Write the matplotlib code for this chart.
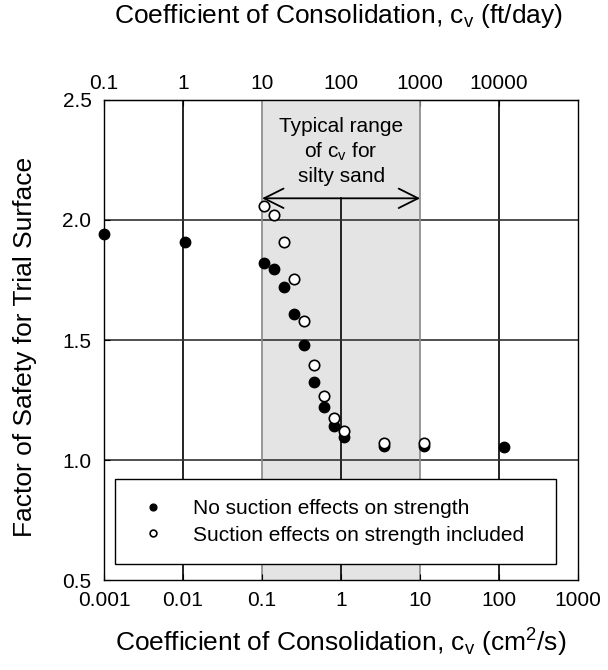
import matplotlib
matplotlib.use("Agg")
import matplotlib.pyplot as plt

plt.rcParams['font.family'] = ['Liberation Sans', 'DejaVu Sans']
plt.rcParams['mathtext.default'] = 'regular'

# данные
cv_no_suction = [0.001, 0.0105, 0.105, 0.142, 0.19, 0.254, 0.34, 0.455, 0.61, 0.815, 1.09, 3.53, 11.3, 115]
fs_no_suction = [1.942, 1.91, 1.822, 1.796, 1.72, 1.608, 1.479, 1.326, 1.22, 1.142, 1.097, 1.058, 1.058, 1.053]
cv_suction = [0.105, 0.14, 0.19, 0.254, 0.34, 0.455, 0.61, 0.815, 1.09, 3.53, 11.3]
fs_suction = [2.056, 2.021, 1.91, 1.753, 1.579, 1.396, 1.267, 1.174, 1.121, 1.072, 1.072]

x_ticks = [0.001, 0.01, 0.1, 1, 10, 100, 1000]
x_labels = ['0.001', '0.01', '0.1', '1', '10', '100', '1000']
top_ticks = [0.1, 1, 10, 100, 1000, 10000]
top_labels = ['0.1', '1', '10', '100', '1000', '10000']
y_ticks = [0.5, 1.0, 1.5, 2.0, 2.5]
typical_range = (0.1, 10)
arrow_y = 2.09

fig = plt.figure(figsize=(6.08, 6.70), dpi=100)
ax = fig.add_axes([0.171, 0.134, 0.780, 0.717])

ax.set_xscale('log')
ax.set_xlim(0.001, 1000)
ax.set_ylim(0.5, 2.5)

# серая полоса - типичный диапазон
ax.axvspan(*typical_range, facecolor='#e4e4e4', edgecolor='none', zorder=0.2)
for x in [0.01, 100]:
    ax.axvline(x, color='black', lw=1.2, zorder=0.5)
# линия при 1 обрывается на стрелке
ax.axvline(1, ymax=(arrow_y - 0.5) / 2.0, color='black', lw=1.2, zorder=0.5)
for y in y_ticks[1:-1]:
    ax.axhline(y, color='#333333', lw=1.2, zorder=0.5)
for x in typical_range:
    ax.axvline(x, color='#888888', lw=1.2, zorder=0.6)

ax.plot(cv_no_suction, fs_no_suction, 'o', ms=7.5, color='black', mec='black',
        label='No suction effects on strength', clip_on=False, zorder=3)
ax.plot(cv_suction, fs_suction, 'o', ms=7.5, mfc='white', mec='black', mew=1.2,
        label='Suction effects on strength included', clip_on=False, zorder=4)

ax.annotate('', xy=(typical_range[0], arrow_y), xytext=(typical_range[1], arrow_y),
            arrowprops=dict(arrowstyle='<->', lw=1.3, color='black', mutation_scale=35,
                            shrinkA=0, shrinkB=0), zorder=2)
ax.text(1, 2.285, 'Typical range\nof c$_v$ for\nsilty sand', ha='center', va='center',
        fontsize=15, linespacing=1.25, zorder=2)

ax.set_xticks(x_ticks)
ax.set_xticklabels(x_labels)
ax.set_yticks(y_ticks)
ax.set_yticklabels(['%.1f' % v for v in y_ticks])
ax.minorticks_off()
ax.tick_params(direction='in', labelsize=15, length=4)
ax.tick_params(axis='x', pad=8)
ax.tick_params(axis='y', pad=9)

top = ax.secondary_xaxis('top', functions=(lambda x: x * 100, lambda x: x / 100))
top.set_xticks(top_ticks)
top.set_xticklabels(top_labels)
top.minorticks_off()
top.tick_params(direction='in', labelsize=15, length=4, pad=5)

for spine in ax.spines.values():
    spine.set_linewidth(1.0)

leg = ax.legend(loc='lower left', bbox_to_anchor=(0.023, 0.033, 0.931, 0.186), mode='expand',
                fontsize=15, frameon=True, fancybox=False, edgecolor='black', framealpha=1,
                borderpad=0.95, labelspacing=0.35, handlelength=1.8, handletextpad=1.0,
                markerscale=0.65, borderaxespad=0)
leg.get_frame().set_linewidth(1.0)

fig.text(0.041, 0.482, 'Factor of Safety for Trial Surface', rotation=90, ha='center', va='center',
         fontsize=19)
fig.text(0.557, 0.966, 'Coefficient of Consolidation, c$_v$ (ft/day)', ha='center', va='baseline',
         fontsize=19)
fig.text(0.561, 0.027, 'Coefficient of Consolidation, c$_v$ (cm$^2$/s)', ha='center', va='baseline',
         fontsize=19)

fig.savefig('out.png', dpi=100)
